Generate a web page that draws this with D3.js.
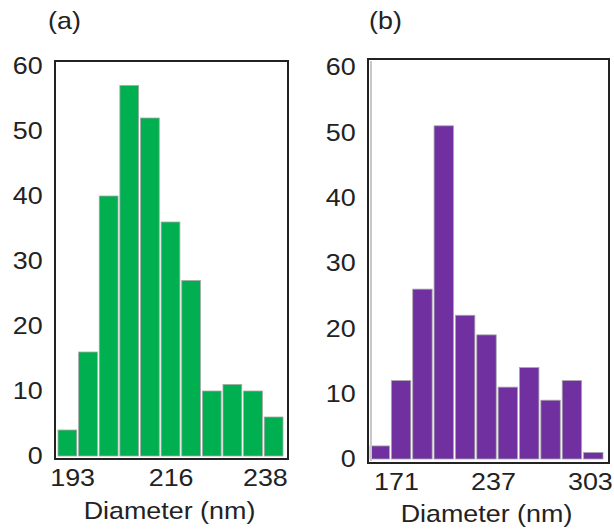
<!DOCTYPE html>
<html>
<head>
  <meta charset="utf-8">
  <title>Diameter histograms</title>
  <script src="https://d3js.org/d3.v7.min.js"></script>
  <style>
    body { margin: 0; background: #fff; }
    text { font-family: "Liberation Sans", Arial, sans-serif; fill: #222; }
  </style>
</head>
<body>
  <script>
    // counts per bin
    var countsA = [4, 16, 40, 57, 52, 36, 27, 10, 11, 10, 6];
    var countsB = [2, 12, 26, 51, 22, 19, 11, 14, 9, 12, 1];
    var ticksA = [193, 216, 238];
    var ticksB = [171, 237, 303];
    var yTicks = [0, 10, 20, 30, 40, 50, 60];

    var width = 614, height = 531;
    var stretch = 1.12; // the original text is a bit wide
    var svg = d3.select('body').append('svg')
      .attr('width', width)
      .attr('height', height);

    var panels = [
      { name: '(a)', counts: countsA, ticks: ticksA, color: '#00b050',
        frame: { x0: 55, x1: 288, y0: 61, y1: 459 },
        bars: [58, 283], y: [456, 66],
        diam: { domain: [189, 243.4] },
        labelX: 48, titleY: 519, shade: false },
      { name: '(b)', counts: countsB, ticks: ticksB, color: '#7030a0',
        frame: { x0: 368, x1: 609, y0: 59, y1: 463 },
        bars: [370, 603], y: [459, 67],
        diam: { domain: [152, 316] },
        labelX: 369, titleY: 522, shade: true }
    ];

    function wide(sel) {
      sel.style('font-size', '24px')
        .style('font-family', '"Liberation Sans", Arial, sans-serif')
        .attr('fill', '#222')
        .attr('transform', 'scale(' + stretch + ',1)');
    }

    panels.forEach(function(p) {
      var f = p.frame;
      var g = svg.append('g');

      var x = d3.scaleBand()
        .domain(d3.range(p.counts.length))
        .range(p.bars)
        .paddingInner(0.09);
      var y = d3.scaleLinear().domain([0, 60]).range(p.y);
      var diam = d3.scaleLinear().domain(p.diam.domain).range([f.x0, f.x1]);

      g.selectAll('rect.bar')
        .data(p.counts)
        .enter()
        .append('rect')
        .attr('class', 'bar')
        .attr('x', function(d, i) { return x(i); })
        .attr('y', function(d) { return y(d); })
        .attr('width', x.bandwidth())
        .attr('height', function(d) { return y(0) - y(d); })
        .attr('fill', p.color)
        .attr('stroke', '#a8a8a8')
        .attr('stroke-width', 0.8);

      if (p.shade) {
        g.append('line')
          .attr('x1', f.x0 + 3).attr('x2', f.x0 + 3)
          .attr('y1', f.y0 + 2).attr('y2', f.y1 - 2)
          .attr('stroke', '#c8c8c8')
          .attr('stroke-width', 2);
      }

      g.append('rect')
        .attr('x', f.x0).attr('y', f.y0)
        .attr('width', f.x1 - f.x0).attr('height', f.y1 - f.y0)
        .attr('fill', 'none')
        .attr('stroke', '#222')
        .attr('stroke-width', 2);

      var left = g.append('g')
        .attr('transform', 'translate(' + f.x0 + ',0)')
        .call(d3.axisLeft(y).tickValues(yTicks).tickSize(0).tickPadding(11));
      left.select('.domain').remove();
      left.selectAll('text').call(wide);

      var bottom = g.append('g')
        .attr('transform', 'translate(0,' + f.y1 + ')')
        .call(d3.axisBottom(diam).tickValues(p.ticks).tickSize(0).tickPadding(10));
      bottom.select('.domain').remove();
      bottom.selectAll('text').call(wide);

      g.append('g')
        .attr('transform', 'translate(' + ((f.x0 + f.x1) / 2 - 2) + ',' + p.titleY + ')')
        .append('text')
        .attr('text-anchor', 'middle')
        .text('Diameter (nm)')
        .call(wide);

      g.append('g')
        .attr('transform', 'translate(' + p.labelX + ',29)')
        .append('text')
        .text(p.name)
        .call(wide);
    });
  </script>
</body>
</html>
